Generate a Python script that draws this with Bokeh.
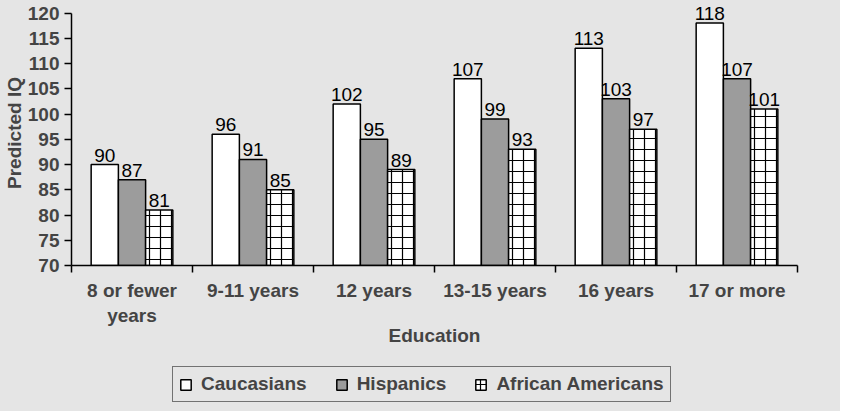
from bokeh.plotting import figure
from bokeh.models import Range1d, FixedTicker, ColumnDataSource, Legend, LegendItem
from bokeh.layouts import column
from bokeh.transform import dodge
from bokeh.core.properties import value
from bokeh.embed import file_html
from bokeh.resources import INLINE

categories = ["8 or fewer\nyears", "9-11 years", "12 years", "13-15 years", "16 years", "17 or more"]
caucasians = [90, 96, 102, 107, 113, 118]
hispanics = [87, 91, 95, 99, 103, 107]
african_americans = [81, 85, 89, 93, 97, 101]
series_names = ["Caucasians", "Hispanics", "African Americans"]
y_ticks = [70, 75, 80, 85, 90, 95, 100, 105, 110, 115, 120]

BG = "#e5e5e5"
FONT = "Liberation Sans"

centers = [i + 0.5 for i in range(len(categories))]
bounds = list(range(len(categories) + 1))

src = ColumnDataSource(dict(
    x=centers,
    cau=caucasians, his=hispanics, afr=african_americans,
    cau_t=[str(v) for v in caucasians],
    his_t=[str(v) for v in hispanics],
    afr_t=[str(v) for v in african_americans],
))

p = figure(frame_width=726, frame_height=265, x_range=Range1d(0, 6), y_range=Range1d(70, 122.48),
           output_backend="svg", toolbar_location=None,
           min_border_left=65, min_border_right=43, min_border_top=0, min_border_bottom=90,
           background_fill_color=BG, border_fill_color=BG)
p.outline_line_color = None
p.xgrid.visible = False
p.ygrid.visible = False

w = 0.225
styles = [
    dict(field="cau", off=-w, fill="#ffffff", hatch=None),
    dict(field="his", off=0.0, fill="#9c9c9c", hatch=None),
    dict(field="afr", off=w, fill="#ffffff", hatch="+"),
]
for st in styles:
    kw = {}
    if st["hatch"]:
        kw = dict(hatch_pattern=st["hatch"], hatch_scale=11, hatch_weight=1.2, hatch_color="black")
    st["kw"] = kw
    p.vbar(x=dodge("x", st["off"], range=p.x_range), top=st["field"], bottom=70, width=w,
           source=src, fill_color=st["fill"], line_color="black", line_width=1.5, **kw)
    p.text(x=dodge("x", st["off"], range=p.x_range), y=st["field"], text=st["field"] + "_t",
           source=src, text_font=value(FONT), text_font_size="19px", text_color="black",
           text_align="center", text_baseline="bottom", y_offset=-3)

# y axis
ya = p.yaxis[0]
ya.ticker = FixedTicker(ticks=y_ticks)
ya.bounds = (70, 120)
ya.axis_label = "Predicted IQ"
ya.axis_label_text_font = FONT
ya.axis_label_text_font_style = "bold"
ya.axis_label_text_font_size = "19px"
ya.axis_label_standoff = 0
ya.major_label_text_font = FONT
ya.major_label_text_font_style = "bold"
ya.major_label_text_font_size = "19px"
ya.major_label_standoff = 5
ya.major_tick_out = 7
ya.major_tick_in = 0
ya.minor_tick_out = 0
ya.axis_line_width = 1.5
ya.major_tick_line_width = 1.5
ya.axis_line_color = "black"

# x axis
xa = p.xaxis[0]
xa.ticker = FixedTicker(ticks=centers, minor_ticks=bounds)
xa.major_label_overrides = {c: lab for c, lab in zip(centers, categories)}
xa.axis_label = "Education"
xa.axis_label_text_font = FONT
xa.axis_label_text_font_style = "bold"
xa.axis_label_text_font_size = "19px"
xa.axis_label_standoff = -4
xa.major_label_text_font = FONT
xa.major_label_text_font_style = "bold"
xa.major_label_text_font_size = "19px"
xa.major_label_standoff = 7
xa.major_tick_out = 0
xa.major_tick_in = 0
xa.minor_tick_out = 7
xa.minor_tick_in = 0
xa.minor_tick_line_width = 1.5
xa.axis_line_width = 1.5
xa.axis_line_color = "black"

# legend in its own strip below the chart
lp = figure(width=834, height=56, x_range=Range1d(0, 1), y_range=Range1d(0, 1),
            output_backend="svg", toolbar_location=None,
            min_border=0, background_fill_color=BG, border_fill_color=BG)
lp.axis.visible = False
lp.grid.visible = False
lp.outline_line_color = None
leg_renderers = []
for st in styles:
    # a tiny swatch bar placed underneath the opaque legend box
    r = lp.vbar(x=[0.45], top=[0.55], bottom=0.45, width=0.005, fill_color=st["fill"], line_color="black",
                line_width=1.5, **st["kw"])
    leg_renderers.append(r)

legend = Legend(items=[LegendItem(label=n, renderers=[r]) for n, r in zip(series_names, leg_renderers)],
                orientation="horizontal", location=(101, 9))
legend.label_text_font = FONT
legend.label_text_font_style = "bold"
legend.label_text_font_size = "19px"
legend.glyph_width = 13
legend.glyph_height = 13
legend.label_standoff = 9
legend.spacing = 28
legend.padding = 6
legend.margin = 0
legend.border_line_color = "black"
legend.border_line_width = 1.5
legend.background_fill_color = BG
legend.background_fill_alpha = 1.0
lp.add_layout(legend, "center")

layout = column(p, lp, spacing=0, styles={"background-color": BG})
open("out.html", "w").write(file_html(layout, INLINE))
